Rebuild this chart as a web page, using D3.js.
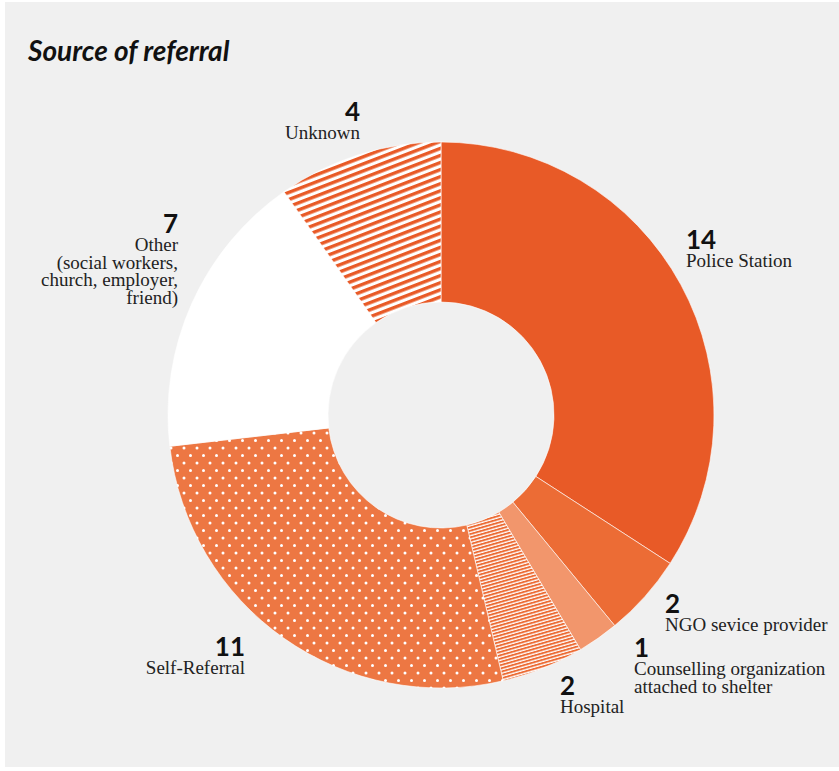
<!DOCTYPE html>
<html>
<head>
<meta charset="utf-8">
<script src="https://cdn.jsdelivr.net/npm/d3@7"></script>
<style>
  html, body { margin: 0; padding: 0; background: #ffffff; }
  svg { display: block; }
</style>
</head>
<body>
<svg id="chart" width="839" height="771"></svg>
<script>
// Referral sources, clockwise from 12 o'clock
const categories = ["Police Station", "NGO sevice provider", "Counselling organization attached to shelter",
                    "Hospital", "Self-Referral", "Other (social workers, church, employer, friend)", "Unknown"];
const counts = [14, 2, 1, 2, 11, 7, 4];
// Label text broken into lines as printed
const labelLines = [
  ["Police Station"],
  ["NGO sevice provider"],
  ["Counselling organization", "attached to shelter"],
  ["Hospital"],
  ["Self-Referral"],
  ["Other", "(social workers,", "church, employer,", "friend)"],
  ["Unknown"]
];

// Slice fills: solid colours or pattern ids
const fills = ["#e85a27", "#ec6c35", "#f2966c", "url(#hatchFine)", "url(#dots)", "#ffffff", "url(#hatchWide)"];

// Label placement: anchor point of the number and text alignment
const labelLayout = [
  { x: 686, y: 249, anchor: "start" },
  { x: 665, y: 613, anchor: "start" },
  { x: 634, y: 657, anchor: "start" },
  { x: 560, y: 695, anchor: "start" },
  { x: 245, y: 656, anchor: "end" },
  { x: 178, y: 233, anchor: "end" },
  { x: 360, y: 121, anchor: "end" }
];

const svg = d3.select("#chart");
const W = 839, H = 771;

// background panel
svg.append("rect").attr("x", 5).attr("y", 2).attr("width", W - 5).attr("height", 765)
  .attr("fill", "#f0f0f0");

// patterns
const defs = svg.append("defs");

const wide = defs.append("pattern").attr("id", "hatchWide")
  .attr("patternUnits", "userSpaceOnUse").attr("width", 10).attr("height", 6.6)
  .attr("patternTransform", "rotate(-21)");
wide.append("rect").attr("width", 10).attr("height", 6.6).attr("fill", "#ffffff");
wide.append("rect").attr("y", 0).attr("width", 10).attr("height", 3.4).attr("fill", "#e85a27");

const fine = defs.append("pattern").attr("id", "hatchFine")
  .attr("patternUnits", "userSpaceOnUse").attr("width", 10).attr("height", 3.2)
  .attr("patternTransform", "rotate(-16)");
fine.append("rect").attr("width", 10).attr("height", 3.2).attr("fill", "#ffffff");
fine.append("rect").attr("width", 10).attr("height", 1.9).attr("fill", "#ec6c35");

const dots = defs.append("pattern").attr("id", "dots")
  .attr("patternUnits", "userSpaceOnUse").attr("width", 13).attr("height", 15);
dots.append("rect").attr("width", 13).attr("height", 15).attr("fill", "#ed7743");
dots.append("circle").attr("cx", 3).attr("cy", 3).attr("r", 1.5).attr("fill", "#ffffff");
dots.append("circle").attr("cx", 9.5).attr("cy", 10.5).attr("r", 1.5).attr("fill", "#ffffff");

// title
svg.append("text").attr("x", 28).attr("y", 61)
  .attr("font-family", "Lato, 'Open Sans', sans-serif")
  .attr("font-weight", 700).attr("font-style", "italic")
  .attr("font-size", 28).attr("fill", "#111111")
  .text("Source of referral");

// donut
const cx = 441, cy = 415;
const pie = d3.pie().sort(null).value(d => d)(counts);
const arc = d3.arc().innerRadius(113).outerRadius(273);

const g = svg.append("g").attr("transform", `translate(${cx},${cy})`);
g.selectAll("path").data(pie).join("path")
  .attr("d", arc)
  .attr("fill", (d, i) => fills[i])
  .attr("stroke", "#ffffff").attr("stroke-width", 0.6);

// labels
const lab = svg.append("g");
counts.forEach((v, i) => {
  const L = labelLayout[i];
  const t = lab.append("g");
  t.append("text").attr("x", L.x).attr("y", L.y)
    .attr("text-anchor", L.anchor)
    .attr("font-family", "Lato, 'Open Sans', sans-serif")
    .attr("font-weight", 700).attr("font-size", 26).attr("fill", "#111111")
    .text(v);
  labelLines[i].forEach((line, j) => {
    t.append("text").attr("x", L.x).attr("y", L.y + 18 + j * 17.5)
      .attr("text-anchor", L.anchor)
      .attr("font-family", "'Liberation Serif', 'DejaVu Serif', serif")
      .attr("font-size", 19).attr("fill", "#222222")
      .text(line);
  });
});
</script>
</body>
</html>
